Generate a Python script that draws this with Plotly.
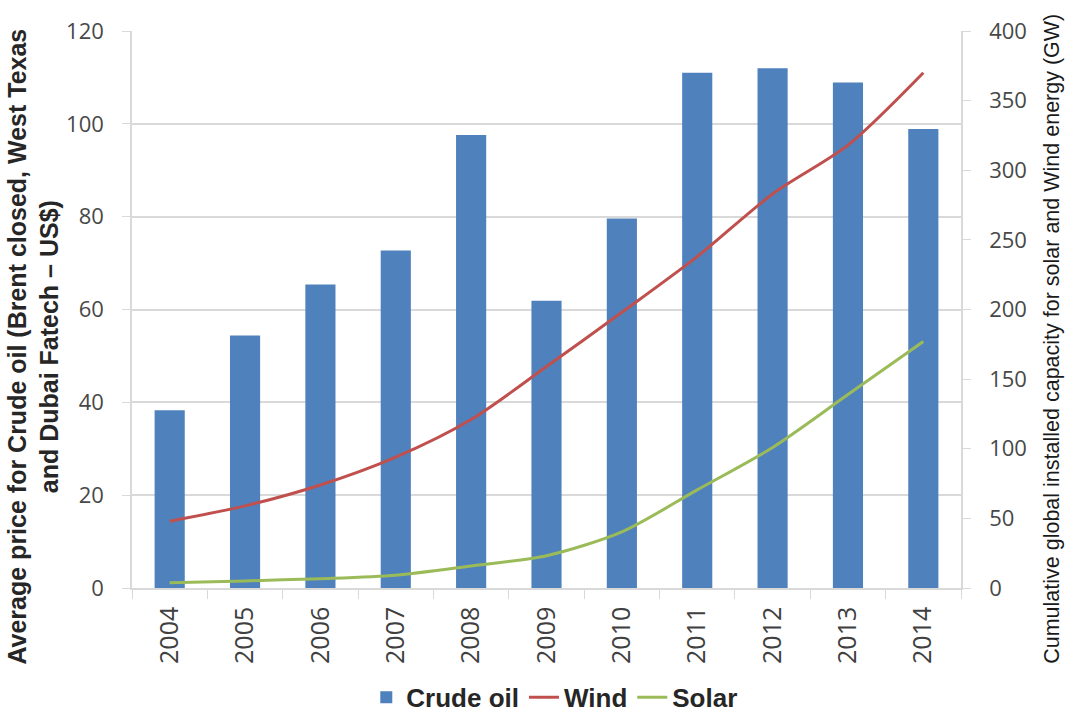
import plotly.graph_objects as go

# Annual averages and cumulative installed capacity, 2004-2014
years = ["2004", "2005", "2006", "2007", "2008", "2009", "2010", "2011", "2012", "2013", "2014"]
crude_oil = [38.3, 54.4, 65.4, 72.7, 97.6, 61.9, 79.6, 111.0, 112.0, 108.9, 98.9]
wind_gw = [48, 59, 74, 94, 121, 159, 198, 238, 283, 318, 370]
solar_gw = [3.7, 5.1, 6.7, 9.2, 15.8, 23.2, 40.3, 70.5, 100.9, 138.9, 177]

left_ticks = [0, 20, 40, 60, 80, 100, 120]
right_ticks = [0, 50, 100, 150, 200, 250, 300, 350, 400]

TICK_FONT = dict(family="Open Sans, DejaVu Sans, sans-serif", size=22, color="#484848")
GRID = "#d9d9d9"

fig = go.Figure()

fig.add_trace(go.Bar(
    x=years, y=crude_oil, name="Crude oil",
    marker=dict(color="#4f81bd", line=dict(width=0)),
    width=0.4, yaxis="y",
))
fig.add_trace(go.Scatter(
    x=years, y=wind_gw, name="Wind", mode="lines",
    line=dict(color="#c0504d", width=3, shape="spline", smoothing=0.8),
    yaxis="y2",
))
fig.add_trace(go.Scatter(
    x=years, y=solar_gw, name="Solar", mode="lines",
    line=dict(color="#9bbb59", width=3, shape="spline", smoothing=0.8),
    yaxis="y2",
))

fig.update_layout(
    width=1074, height=719,
    margin=dict(l=132, r=113, t=31, b=131, autoexpand=False),
    paper_bgcolor="white", plot_bgcolor="white",
    showlegend=True,
    legend=dict(
        orientation="h", x=0.51, xanchor="center",
        yref="container", y=0.03, yanchor="middle",
        font=dict(family="Liberation Sans, Arial, sans-serif", size=26, color="#262626", weight="bold"),
        itemwidth=30, tracegroupgap=0, traceorder="normal",
    ),
    xaxis=dict(
        type="category", tickangle=-90,
        tickfont=dict(family="Open Sans, DejaVu Sans, sans-serif", size=25, color="#404040"),
        showline=True, linecolor=GRID, linewidth=1.5,
        ticks="outside", ticklen=9, tickcolor=GRID, tickson="boundaries",
        ticklabelstandoff=7,
        showgrid=False, zeroline=False,
    ),
    yaxis=dict(
        range=[0, 120], tickvals=left_ticks, tickfont=TICK_FONT,
        showgrid=True, gridcolor=GRID, gridwidth=1.5,
        showline=True, linecolor=GRID, linewidth=1.5,
        ticks="outside", ticklen=8, tickcolor=GRID,
        ticklabelstandoff=14, zeroline=False,
    ),
    yaxis2=dict(
        range=[0, 400], tickvals=right_ticks, tickfont=TICK_FONT,
        overlaying="y", side="right",
        showgrid=False, showline=True, linecolor=GRID, linewidth=1.5,
        ticks="outside", ticklen=8, tickcolor=GRID,
        ticklabelstandoff=14, zeroline=False,
    ),
    annotations=[
        dict(
            text="Average price for Crude oil (Brent closed, West Texas<br>and Dubai Fatech – US$)",
            xref="paper", yref="paper", x=-0.1185, y=0.433,
            xanchor="center", yanchor="middle", textangle=-90, showarrow=False,
            font=dict(family="Liberation Sans, Arial, sans-serif", size=25, color="#262626", weight="bold"),
        ),
        dict(
            text="Cumulative global installed capacity for solar and Wind energy (GW)",
            xref="paper", yref="paper", x=1.1095, y=0.447,
            xanchor="center", yanchor="middle", textangle=-90, showarrow=False,
            font=dict(family="Liberation Sans, Arial, sans-serif", size=21.5, color="#1a1a1a"),
        ),
    ],
)

fig.write_html("out.html")
